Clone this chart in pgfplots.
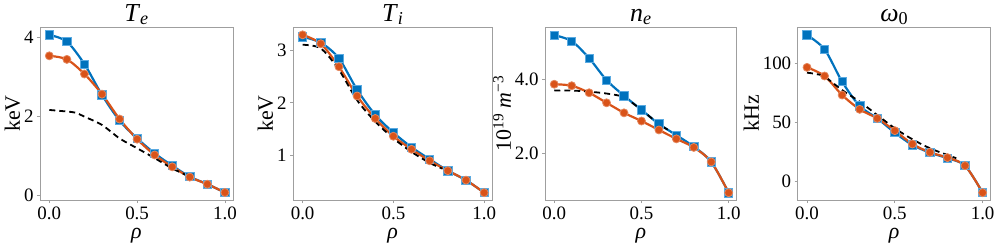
\documentclass[border=0pt]{standalone}
\usepackage{fontspec}
\setmainfont{Liberation Serif}
\usepackage{pgfplots}
\pgfplotsset{compat=1.18}
\definecolor{blueC}{RGB}{0,114,189}
\definecolor{blueL}{RGB}{90,170,225}
\definecolor{orC}{RGB}{217,83,25}
\pgfplotsset{myax/.style={
  scale only axis, height=173bp, anchor=south west,
  xmin=-0.053, xmax=1.046, xtick={0,0.5,1}, xticklabels={0.0,0.5,1.0},
  tick align=outside, tick pos=left,
  axis line style={gray!75, line width=0.8pt},
  major tick length=3bp, every tick/.style={gray!75, line width=0.8pt},
  tick label style={font=\rmfamily\fontsize{19}{19}\selectfont},
  label style={font=\rmfamily\fontsize{22}{22}\selectfont},
  title style={font=\rmfamily\fontsize{26}{26}\selectfont, anchor=base, yshift=0bp},
  xlabel={\textit{ρ}},
  xlabel style={yshift=-2bp},
  ylabel style={yshift=-3bp},
  clip=false,
},
bl/.style={blueC, line width=2.2pt, smooth, mark=square*, mark size=4.2bp, mark options={fill=blueC, draw=blueL, line width=0.8pt, solid}},
orl/.style={orC, line width=2.2pt, smooth, mark=*, mark size=4bp, mark options={fill=orC, draw=orC!70!white, line width=0.8pt, solid}},
dl/.style={black, line width=1.8pt, smooth, dash pattern=on 6bp off 4bp},
}
\begin{document}
\begin{tikzpicture}
\useasboundingbox (0,0) rectangle (997bp,249bp);
% Panel 1: Te
\begin{axis}[myax, at={(40bp,49bp)}, width=193bp,
  ymin=-0.11, ymax=4.27, ytick={0,2,4}, yticklabels={0,2,4},
  title={\textit{T}\textsubscript{\textit{e}}}, ylabel={keV}]
\addplot[bl] coordinates {(0,4.07)(0.1,3.90)(0.2,3.33)(0.3,2.55)(0.4,1.90)(0.5,1.45)(0.6,1.07)(0.7,0.76)(0.8,0.48)(0.9,0.29)(1.0,0.08)};
\addplot[orl] coordinates {(0,3.54)(0.1,3.45)(0.2,3.08)(0.3,2.57)(0.4,1.94)(0.5,1.43)(0.6,1.03)(0.7,0.73)(0.8,0.47)(0.9,0.29)(1.0,0.08)};
\addplot[dl] coordinates {(0,2.17)(0.1,2.13)(0.15,2.10)(0.2,2.00)(0.3,1.79)(0.4,1.45)(0.5,1.20)(0.6,0.95)(0.7,0.69)(0.8,0.48)};
\end{axis}
% Panel 2: Ti
\begin{axis}[myax, at={(293bp,49bp)}, width=199.5bp,
  ymin=0.14, ymax=3.45, ytick={1,2,3}, yticklabels={1,2,3},
  title={\textit{T}\textsubscript{\textit{i}}}, ylabel={keV}]
\addplot[bl] coordinates {(0,3.26)(0.1,3.15)(0.2,2.85)(0.3,2.25)(0.4,1.77)(0.5,1.43)(0.6,1.15)(0.7,0.92)(0.8,0.70)(0.9,0.52)(1.0,0.28)};
\addplot[orl] coordinates {(0,3.30)(0.1,3.13)(0.2,2.69)(0.3,2.13)(0.4,1.70)(0.5,1.36)(0.6,1.11)(0.7,0.89)(0.8,0.70)(0.9,0.52)(1.0,0.28)};
\addplot[dl] coordinates {(0,3.11)(0.1,3.04)(0.2,2.63)(0.3,2.05)(0.4,1.64)(0.5,1.32)(0.6,1.06)(0.7,0.85)(0.77,0.74)};
\end{axis}
% Panel 3: ne
\begin{axis}[myax, at={(545bp,49bp)}, width=191.7bp,
  ymin=0.745, ymax=5.40, ytick={2,4}, yticklabels={2.0,4.0},
  title={\textit{n}\textsubscript{\textit{e}}}, ylabel={10\textsuperscript{19} \textit{m}\textsuperscript{−3}}]
\addplot[bl] coordinates {(0,5.18)(0.1,5.02)(0.2,4.56)(0.3,3.97)(0.4,3.55)(0.5,3.17)(0.6,2.79)(0.7,2.49)(0.8,2.18)(0.9,1.77)(1.0,0.94)};
\addplot[orl] coordinates {(0,3.86)(0.1,3.82)(0.2,3.63)(0.3,3.36)(0.4,3.09)(0.5,2.87)(0.6,2.63)(0.7,2.39)(0.8,2.16)(0.9,1.77)(1.0,0.94)};
\addplot[dl] coordinates {(0,3.69)(0.1,3.69)(0.2,3.66)(0.3,3.61)(0.4,3.52)(0.45,3.35)(0.5,3.17)(0.6,2.79)(0.65,2.64)};
\end{axis}
% Panel 4: omega
\begin{axis}[myax, at={(797.7bp,49bp)}, width=193bp,
  ymin=-15.5, ymax=130.7, ytick={0,50,100}, yticklabels={0,50,100},
  title={\textit{ω}\textsubscript{0}}, ylabel={kHz}]
\addplot[bl] coordinates {(0,123.9)(0.1,111.8)(0.2,84.5)(0.3,63.9)(0.4,53.5)(0.5,41.4)(0.6,31.0)(0.7,24.5)(0.8,19.8)(0.9,13.5)(1.0,-9.3)};
\addplot[orl] coordinates {(0,96.6)(0.1,89.3)(0.2,73.2)(0.3,61.1)(0.4,53.5)(0.5,43.1)(0.6,31.8)(0.7,24.8)(0.8,20.3)(0.9,13.5)(1.0,-9.3)};
\addplot[dl] coordinates {(0,92.1)(0.05,91.0)(0.1,88.7)(0.2,77.4)(0.3,67.6)(0.4,56.3)(0.5,45.1)(0.6,35.8)(0.7,28.2)(0.8,22.5)(0.85,19.8)};
\end{axis}
\end{tikzpicture}
\end{document}
